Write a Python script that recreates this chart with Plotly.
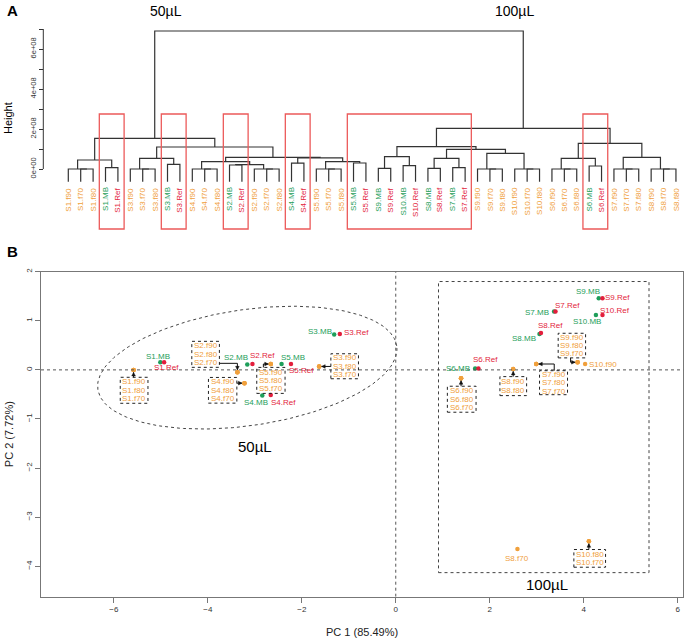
import math
import plotly.graph_objects as go

W, H = 685, 640
FONT = "Liberation Sans"
ORANGE = "#F0A03C"
GREEN = "#1E9E5A"
RED = "#E31E3C"
BOXRED = "#EC5A5A"
LINE = "#333333"

# ======================= Panel A data (dendrogram) =======================
leaf_labels = [
    "S1.f90", "S1.f70", "S1.f80", "S1.MB", "S1.Ref",
    "S3.f90", "S3.f70", "S3.f80", "S3.MB", "S3.Ref",
    "S4.f90", "S4.f70", "S4.f80", "S2.MB", "S2.Ref",
    "S2.f90", "S2.f70", "S2.f80", "S4.MB", "S4.Ref",
    "S5.f90", "S5.f70", "S5.f80", "S5.MB", "S5.Ref",
    "S9.MB", "S9.Ref", "S10.MB", "S10.Ref", "S8.MB", "S8.Ref", "S7.MB", "S7.Ref",
    "S9.f90", "S9.f70", "S9.f80", "S10.f90", "S10.f70", "S10.f80",
    "S6.f90", "S6.f70", "S6.f80", "S6.MB", "S6.Ref",
    "S7.f90", "S7.f70", "S7.f80", "S8.f90", "S8.f70", "S8.f80",
]
# merge steps: (left, right, height in units of 1e8); str = leaf, int = earlier merge
merge_left = ["S1.f70", "S1.f90", "S1.MB", 1, "S3.f70", "S3.f90", "S3.MB", 5,
              "S4.f70", "S4.f90", "S2.MB", "S2.f70", "S2.f90", 10, 9, "S4.MB",
              "S5.f70", "S5.f90", "S5.MB", 17, 15, 14, 7, 3,
              "S9.MB", "S10.MB", 24, "S8.MB", "S7.MB", 27, "S9.f70", "S9.f90",
              "S10.f70", "S10.f90", 31, 29, 26, "S6.f70", "S6.f90", "S6.MB", 38,
              "S7.f70", "S7.f90", "S8.f70", "S8.f90", 42, 40, 36, 23]
merge_right = ["S1.f80", 0, "S1.Ref", 2, "S3.f80", 4, "S3.Ref", 6,
               "S4.f80", 8, "S2.Ref", "S2.f80", 11, 12, 13, "S4.Ref",
               "S5.f80", 16, "S5.Ref", 18, 19, 20, 21, 22,
               "S9.Ref", "S10.Ref", 25, "S8.Ref", "S7.Ref", 28, "S9.f80", 30,
               "S10.f80", 32, 33, 34, 35, "S6.f80", 37, "S6.Ref", 39,
               "S7.f80", 41, "S8.f80", 43, 44, 45, 46, 47]
merge_height = [0.0, 0.0, 0.07, 0.45, 0.0, 0.0, 0.23, 0.53,
                0.0, 0.0, 0.20, 0.0, 0.0, 0.22, 0.37, 0.29,
                0.0, 0.0, 0.30, 0.37, 0.56, 0.58, 1.10, 1.53,
                0.03, 0.17, 0.62, 0.03, 0.07, 0.53, 0.0, 0.0,
                0.0, 0.0, 0.78, 0.98, 1.12, 0.0, 0.0, 0.15, 0.53,
                0.0, 0.0, 0.0, 0.0, 0.58, 1.28, 2.03, 6.90]
height_tickvals = [0, 1, 2, 3, 4, 5, 6, 7]
height_ticktext = ["0e+00", "", "2e+08", "", "4e+08", "", "6e+08", ""]
boxed_first = ["S1.MB", "S3.MB", "S2.MB", "S4.MB", "S5.MB", "S6.MB"]
boxed_last = ["S1.Ref", "S3.Ref", "S2.Ref", "S4.Ref", "S7.Ref", "S6.Ref"]

# ======================= Panel B data (PCA) =======================
pca_names = []
for s in range(1, 11):
    pca_names += [f"S{s}.MB", f"S{s}.Ref", f"S{s}.f90", f"S{s}.f80", f"S{s}.f70"]
pc1 = [-5.01, -4.93, -5.58, -5.58, -5.58,
       -3.16, -3.05, -3.37, -3.37, -3.37,
       -1.31, -1.19, -1.63, -1.63, -1.63,
       -2.84, -2.66, -3.22, -3.22, -3.22,
       -2.43, -2.23, -2.66, -2.66, -2.66,
       1.69, 1.76, 1.39, 1.39, 1.39,
       3.37, 3.40, 2.99, 2.99, 2.99,
       3.06, 3.09, 2.50, 2.50, 2.59,
       4.32, 4.40, 3.87, 3.87, 3.87,
       4.26, 4.40, 4.03, 4.11, 4.11]
pc2 = [0.155, 0.155, 0.00, 0.00, 0.00,
       0.11, 0.12, -0.05, -0.05, -0.05,
       0.72, 0.73, 0.07, 0.07, 0.07,
       -0.52, -0.51, -0.27, -0.27, -0.27,
       0.12, 0.12, 0.12, 0.12, 0.12,
       0.03, 0.03, -0.17, -0.17, -0.17,
       1.19, 1.19, 0.12, 0.12, 0.12,
       0.73, 0.75, 0.02, 0.02, -3.65,
       1.46, 1.46, 0.155, 0.155, 0.155,
       1.12, 1.12, 0.12, -3.49, -3.49]
pc1_title = "PC 1 (85.49%)"
pc2_title = "PC 2 (7.72%)"


def kind_color(name):
    if name.endswith(".MB"):
        return GREEN
    if name.endswith(".Ref"):
        return RED
    return ORANGE


fig = go.Figure()
annotations = []
shapes = []

# ---------------- Panel A: dendrogram ----------------
LEAF_BASE = -0.64
leaf_pos = {n: i for i, n in enumerate(leaf_labels)}
node_x, node_h = [], []


def child(c):
    if isinstance(c, str):
        return leaf_pos[c], LEAF_BASE
    return node_x[c], node_h[c]


dx_, dy_ = [], []
for l, r, h in zip(merge_left, merge_right, merge_height):
    xl, hl = child(l)
    xr, hr = child(r)
    dx_ += [xl, xl, xr, xr, None]
    dy_ += [hl, h, h, hr, None]
    node_x.append((xl + xr) / 2)
    node_h.append(h)

fig.add_trace(go.Scatter(x=dx_, y=dy_, mode="lines", xaxis="x2", yaxis="y2",
                         line=dict(color=LINE, width=1.2), hoverinfo="skip"))

for i, n in enumerate(leaf_labels):
    annotations.append(dict(x=i, y=-0.82, xref="x2", yref="y2", text=n, showarrow=False,
                            textangle=-90, xanchor="center", yanchor="top",
                            font=dict(family=FONT, size=8, color=kind_color(n))))

for a, b in zip(boxed_first, boxed_last):
    shapes.append(dict(type="rect", xref="x2", yref="y2", x0=leaf_pos[a] - 0.5, x1=leaf_pos[b] + 0.5,
                       y0=-3.0, y1=2.75, line=dict(color=BOXRED, width=1.3)))

AX_A = 43.3 / W
shapes.append(dict(type="line", xref="paper", yref="y2", x0=AX_A, x1=AX_A, y0=0, y1=7,
                   line=dict(color=LINE, width=1)))


def paper_text(px, py, text, size, angle=0):
    return dict(x=px / W, y=1 - py / H, xref="paper", yref="paper", text=text, showarrow=False,
                xanchor="center", yanchor="middle", textangle=angle,
                font=dict(family=FONT, size=size, color="black"))


annotations += [
    paper_text(12, 10, "<b>A</b>", 15),
    paper_text(166, 11, "50µL", 14),
    paper_text(514, 11, "100µL", 14),
    paper_text(8, 118, "Height", 11, -90),
    paper_text(12, 251, "<b>B</b>", 15),
]

# ---------------- Panel B: PCA ----------------
XDOM = [41 / W, 683.3 / W]
YDOM = [1 - 596.7 / H, 1 - 271.7 / H]
XR = [-7.55, 6.12]
YR = [-4.62, 2.0]
PPX = (XDOM[1] - XDOM[0]) * W / (XR[1] - XR[0])
PPY = (YDOM[1] - YDOM[0]) * H / (YR[1] - YR[0])

# ellipse around the 50 uL group (screen-space parameters)
ecx, ecy, ea, eb, eth = -3.16, 0.046, 151, 58, math.radians(8.3)
ex, ey = [], []
for k in range(241):
    t = 2 * math.pi * k / 240
    sx, sy = ea * math.cos(t), eb * math.sin(t)
    rx = sx * math.cos(eth) - sy * math.sin(eth)
    ry = sx * math.sin(eth) + sy * math.cos(eth)
    ex.append(ecx + rx / PPX)
    ey.append(ecy + ry / PPY)
fig.add_trace(go.Scatter(x=ex, y=ey, mode="lines", line=dict(color="#444", width=1, dash="dot"),
                         hoverinfo="skip"))

shapes += [
    dict(type="line", xref="x", yref="y", x0=XR[0], x1=XR[1], y0=0, y1=0,
         line=dict(color="#555", width=1, dash="dot")),
    dict(type="line", xref="x", yref="y", x0=0, x1=0, y0=YR[0], y1=YR[1],
         line=dict(color="#555", width=1, dash="dot")),
    dict(type="rect", xref="x", yref="y", x0=0.91, x1=5.39, y0=-4.13, y1=1.80,
         line=dict(color="#444", width=1, dash="dot")),
]

for col in (ORANGE, GREEN, RED):
    idx = [i for i, n in enumerate(pca_names) if kind_color(n) == col]
    fig.add_trace(go.Scatter(x=[pc1[i] for i in idx], y=[pc2[i] for i in idx], mode="markers",
                             marker=dict(color=col, size=4.5), text=[pca_names[i] for i in idx],
                             hoverinfo="text"))

pidx = {n: i for i, n in enumerate(pca_names)}

# boxed replicate groups: members, box (screen px: left, right, top, bottom rel. to point), arrow path
box_groups = [
    (["S1.f90", "S1.f80", "S1.f70"], (-13.3, 14.4, 7.4, 33.4), [(0, 7.4), (0, 2.5)]),
    (["S2.f90", "S2.f80", "S2.f70"], (-45.6, -18, -31, -5), [(-18, -9), (0, -9), (0, -2.5)]),
    (["S4.f90", "S4.f80", "S4.f70"], (-36, -7.6, -5.7, 20), [(-7.6, 0), (-2.5, 0)]),
    (["S5.f90", "S5.f80", "S5.f70"], (-14, 14.3, 3.4, 29.4), [(-7.4, 3.4), (-7.4, 0), (-2.5, 0)]),
    (["S3.f90", "S3.f80", "S3.f70"], (11.7, 39.3, -12.7, 12.3), [(11.7, 0), (2.5, 0)]),
    (["S6.f90", "S6.f80", "S6.f70"], (-13.7, 15, 8, 34), [(0, 8), (0, 2.5)]),
    (["S8.f90", "S8.f80"], (-13.3, 13.4, 7.7, 26.7), [(0, 7.7), (0, 2.5)]),
    (["S7.f90", "S7.f80", "S7.f70"], (3.3, 31.3, 6.7, 30.7), [(18, 6.7), (18, 0), (2.5, 0)]),
    (["S9.f90", "S9.f80", "S9.f70"], (-19.4, 8, -29, -4.4), [(-7, -4.4), (-7, 0), (-2.5, 0)]),
    (["S10.f80", "S10.f70"], (-15, 16.7, 8.3, 26), [(0, 8.3), (0, 2.5)]),
]
LSP = 8.4
for members, (l, r, t, b), path in box_groups:
    i0 = pidx[members[0]]
    px, py = pc1[i0], pc2[i0]
    shapes.append(dict(type="rect", xref="x", yref="y", xsizemode="pixel", ysizemode="pixel",
                       xanchor=px, yanchor=py, x0=l, x1=r, y0=-b, y1=-t,
                       line=dict(color="#222", width=1, dash="dot")))
    cx, cy = (l + r) / 2, (t + b) / 2
    nlines = len(members)
    for k, m in enumerate(members):
        off = (k - (nlines - 1) / 2) * LSP
        annotations.append(dict(x=px, y=py, xref="x", yref="y", text=m, showarrow=False,
                                xshift=cx, yshift=-(cy + off), xanchor="center", yanchor="middle",
                                font=dict(family=FONT, size=8, color=ORANGE)))
    d = "M" + " L".join(f"{a:.2f},{-c:.2f}" for a, c in path)
    shapes.append(dict(type="path", xref="x", yref="y", xsizemode="pixel", ysizemode="pixel",
                       xanchor=px, yanchor=py, path=d, line=dict(color="#111", width=1)))
    (ax0, ay0), (ax1, ay1) = path[-2], path[-1]
    vx, vy = ax1 - ax0, ay1 - ay0
    nrm = math.hypot(vx, vy)
    ux, uy = vx / nrm, vy / nrm
    bx, by = ax1 - 3.5 * ux, ay1 - 3.5 * uy
    p1 = (bx - 1.8 * uy, by + 1.8 * ux)
    p2 = (bx + 1.8 * uy, by - 1.8 * ux)
    tri = f"M{ax1:.2f},{-ay1:.2f} L{p1[0]:.2f},{-p1[1]:.2f} L{p2[0]:.2f},{-p2[1]:.2f} Z"
    shapes.append(dict(type="path", xref="x", yref="y", xsizemode="pixel", ysizemode="pixel",
                       xanchor=px, yanchor=py, path=tri, fillcolor="#111",
                       line=dict(color="#111", width=0.5)))

# single point labels: screen offsets (dx right, dy down) of label centre
label_offsets = {
    "S1.MB": (-2, -6), "S1.Ref": (2, 5.6), "S2.MB": (-11.6, -7.3), "S2.Ref": (9.7, -8.6),
    "S4.MB": (-6.5, 6.7), "S4.Ref": (12.3, 7.4), "S5.MB": (11.6, -6.6), "S5.Ref": (10.8, 6),
    "S3.MB": (-14.3, -3.3), "S3.Ref": (16.7, -1.6), "S9.MB": (-11.2, -6.7), "S9.Ref": (15.1, -1),
    "S7.MB": (-17.3, 0.7), "S7.Ref": (12.3, -6), "S10.MB": (-9, 6.7), "S10.Ref": (12.6, -4.7),
    "S8.MB": (-15.1, 4.4), "S8.Ref": (9.6, -7.3), "S6.MB": (-17.5, 0), "S6.Ref": (7.5, -8.7),
    "S10.f90": (17.5, 0.7), "S8.f70": (0, 9.3),
}
for n, (ox, oy) in label_offsets.items():
    i = pidx[n]
    annotations.append(dict(x=pc1[i], y=pc2[i], xref="x", yref="y", text=n, showarrow=False,
                            xshift=ox, yshift=-oy, xanchor="center", yanchor="middle",
                            font=dict(family=FONT, size=8, color=kind_color(n))))

annotations += [
    dict(x=-3.0, y=-1.56, xref="x", yref="y", text="50µL", showarrow=False,
         xanchor="center", yanchor="middle", font=dict(family=FONT, size=15, color="black")),
    dict(x=3.21, y=-4.37, xref="x", yref="y", text="100µL", showarrow=False,
         xanchor="center", yanchor="middle", font=dict(family=FONT, size=15, color="black")),
    dict(x=(XDOM[0] + XDOM[1]) / 2, y=1 - 632 / H, xref="paper", yref="paper", text=pc1_title,
         showarrow=False, xanchor="center", yanchor="middle",
         font=dict(family=FONT, size=11, color="#222")),
    dict(x=9 / W, y=(YDOM[0] + YDOM[1]) / 2, xref="paper", yref="paper", text=pc2_title,
         showarrow=False, textangle=-90, xanchor="center", yanchor="middle",
         font=dict(family=FONT, size=11, color="#222")),
]

fig.update_layout(
    width=W, height=H, margin=dict(l=0, r=0, t=0, b=0, pad=0, autoexpand=False),
    paper_bgcolor="white", plot_bgcolor="white", showlegend=False,
    xaxis=dict(domain=XDOM, range=XR, anchor="y", showline=True, mirror=True, linecolor="#777",
               linewidth=1.2, ticks="outside", ticklen=5, tickcolor="#777",
               tickvals=[-6, -4, -2, 0, 2, 4, 6], tickfont=dict(family=FONT, size=8, color="#333"),
               showgrid=False, zeroline=False, automargin=False),
    yaxis=dict(domain=YDOM, range=YR, anchor="x", showline=True, mirror=True, linecolor="#777",
               linewidth=1.2, ticks="outside", ticklen=5, tickcolor="#777",
               tickvals=[-4, -3, -2, -1, 0, 1, 2], tickangle=-90,
               tickfont=dict(family=FONT, size=8, color="#333"), showgrid=False, zeroline=False,
               automargin=False),
    xaxis2=dict(domain=[0, 1], range=[-5.508, 49.73], anchor="y2", visible=False),
    yaxis2=dict(domain=[1 - 240 / H, 1 - 20 / H], range=[-3.55, 7.45], anchor="free",
                position=AX_A, showline=False, ticks="outside", ticklen=4, tickcolor=LINE,
                tickvals=height_tickvals, ticktext=height_ticktext, tickangle=-90,
                tickfont=dict(family=FONT, size=7.5, color="#333"), showgrid=False, zeroline=False,
                automargin=False),
    annotations=annotations, shapes=shapes,
)

fig.write_html("out.html", config={"displayModeBar": False},
               post_script="document.body.style.margin='0px';document.body.style.padding='0px';")
